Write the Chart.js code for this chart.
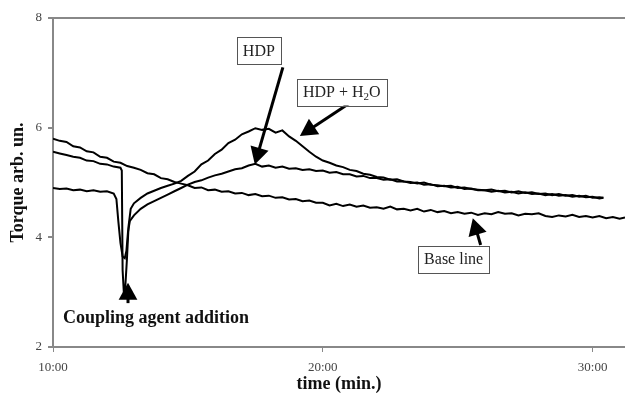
<!DOCTYPE html>
<html>
<head>
<meta charset="utf-8">
<script src="https://cdn.jsdelivr.net/npm/chart.js@4.4.0/dist/chart.umd.min.js"></script>
<style>
  html, body { margin: 0; padding: 0; background: #fff; }
</style>
</head>
<body>
<canvas id="torque" width="625" height="395"></canvas>
<script>
// time in minutes, torque in arb. units
const baseMin = [10.00,10.25,10.50,10.75,11.00,11.25,11.50,11.75,12.00,12.25,12.50,12.75,13.00,13.25,13.50,13.75,14.00,14.25,14.50,14.75,15.00,15.25,15.50,15.75,16.00,16.25,16.50,16.75,17.00,17.25,17.50,17.75,18.00,18.25,18.50,18.75,19.00,19.25,19.50,19.75,20.00,20.25,20.50,20.75,21.00,21.25,21.50,21.75,22.00,22.25,22.50,22.75,23.00,23.25,23.50,23.75,24.00,24.25,24.50,24.75,25.00,25.25,25.50,25.75,26.00,26.25,26.50,26.75,27.00,27.25,27.50,27.75,28.00,28.25,28.50,28.75,29.00,29.25,29.50,29.75,30.00,30.25,30.50,30.75,31.00,31.20];
const baseVal = [5.80,5.76,5.74,5.66,5.64,5.57,5.55,5.47,5.45,5.38,5.36,5.30,5.27,5.23,5.17,5.15,5.08,5.06,5.01,4.98,4.95,4.90,4.91,4.86,4.87,4.83,4.84,4.80,4.81,4.77,4.79,4.75,4.76,4.72,4.73,4.69,4.70,4.66,4.67,4.63,4.63,4.58,4.61,4.57,4.60,4.56,4.58,4.54,4.55,4.52,4.56,4.51,4.52,4.49,4.52,4.47,4.50,4.46,4.48,4.44,4.46,4.43,4.45,4.41,4.44,4.42,4.46,4.43,4.44,4.40,4.43,4.42,4.44,4.39,4.37,4.40,4.38,4.41,4.37,4.39,4.36,4.39,4.35,4.37,4.34,4.36];

const hdpMin = [10.00,10.25,10.50,10.75,11.00,11.25,11.50,11.75,12.00,12.25,12.35,12.42,12.50,12.58,12.66,12.72,12.78,12.85,13.00,13.25,13.50,13.75,14.00,14.25,14.50,14.75,15.00,15.25,15.50,15.75,16.00,16.25,16.50,16.75,17.00,17.25,17.50,17.75,18.00,18.25,18.50,18.75,19.00,19.25,19.50,19.75,20.00,20.25,20.50,20.75,21.00,21.25,21.50,21.75,22.00,22.25,22.50,22.75,23.00,23.25,23.50,23.75,24.00,24.25,24.50,24.75,25.00,25.25,25.50,25.75,26.00,26.25,26.50,26.75,27.00,27.25,27.50,27.75,28.00,28.25,28.50,28.75,29.00,29.25,29.50,29.75,30.00,30.25,30.40];
const hdpVal = [4.90,4.88,4.89,4.86,4.87,4.84,4.86,4.83,4.84,4.80,4.70,4.30,3.90,3.65,3.62,3.75,4.10,4.30,4.40,4.52,4.60,4.66,4.72,4.78,4.84,4.90,4.96,5.01,5.04,5.09,5.13,5.16,5.20,5.24,5.26,5.31,5.34,5.29,5.31,5.27,5.29,5.25,5.26,5.23,5.24,5.21,5.22,5.18,5.19,5.15,5.15,5.11,5.12,5.08,5.08,5.05,5.06,5.02,5.02,4.99,5.00,4.96,4.97,4.93,4.94,4.91,4.92,4.88,4.89,4.86,4.86,4.83,4.85,4.82,4.83,4.80,4.82,4.79,4.80,4.77,4.79,4.76,4.77,4.74,4.76,4.73,4.74,4.71,4.72];

const h2oMin = [10.00,10.25,10.50,10.75,11.00,11.25,11.50,11.75,12.00,12.25,12.50,12.55,12.58,12.62,12.68,12.74,12.80,12.88,13.00,13.25,13.50,13.75,14.00,14.25,14.50,14.75,15.00,15.25,15.50,15.75,16.00,16.25,16.50,16.75,17.00,17.25,17.50,17.75,18.00,18.25,18.50,18.75,19.00,19.25,19.50,19.75,20.00,20.25,20.50,20.75,21.00,21.25,21.50,21.75,22.00,22.25,22.50,22.75,23.00,23.25,23.50,23.75,24.00,24.25,24.50,24.75,25.00,25.25,25.50,25.75,26.00,26.25,26.50,26.75,27.00,27.25,27.50,27.75,28.00,28.25,28.50,28.75,29.00,29.25,29.50,29.75,30.00,30.25,30.40];
const h2oVal = [5.56,5.53,5.50,5.47,5.45,5.40,5.39,5.34,5.33,5.29,5.27,5.22,3.40,3.04,3.10,3.60,4.20,4.52,4.62,4.72,4.80,4.85,4.90,4.94,4.98,5.03,5.12,5.20,5.33,5.40,5.52,5.60,5.72,5.78,5.88,5.93,5.99,5.96,5.98,5.91,5.95,5.84,5.76,5.66,5.56,5.47,5.40,5.36,5.31,5.28,5.23,5.21,5.16,5.14,5.10,5.09,5.05,5.06,5.02,5.01,4.98,5.00,4.96,4.95,4.93,4.94,4.90,4.91,4.88,4.87,4.86,4.87,4.84,4.85,4.82,4.84,4.81,4.82,4.79,4.80,4.77,4.79,4.76,4.77,4.74,4.76,4.72,4.73,4.72];

const xTicks = [10, 20, 30];

const serif = 'Liberation Serif';

// annotation boxes and arrows, placed in data units
const callouts = [
  { text: ['HDP'], box: [17.63, 7.4], tail: [18.52, 7.1], tip: [17.48, 5.33] },
  { text: ['HDP + H', '2', 'O'], box: [20.7, 6.65], tail: [21.0, 6.45], tip: [19.15, 5.85] },
  { text: ['Base line'], box: [24.85, 3.6], tail: [25.85, 3.86], tip: [25.56, 4.35] }
];

function pts(xs, ys) {
  return xs.map((t, i) => ({ x: t, y: ys[i] }));
}

function arrow(ctx, x1, y1, x2, y2, w, head) {
  const a = Math.atan2(y2 - y1, x2 - x1);
  const c = Math.cos(a), s = Math.sin(a);
  ctx.beginPath();
  ctx.moveTo(x1, y1);
  ctx.lineTo(x2 - head * 0.8 * c, y2 - head * 0.8 * s);
  ctx.lineWidth = w;
  ctx.stroke();
  ctx.beginPath();
  ctx.moveTo(x2, y2);
  ctx.lineTo(x2 - head * c + head * 0.55 * s, y2 - head * s - head * 0.55 * c);
  ctx.lineTo(x2 - head * c - head * 0.55 * s, y2 - head * s + head * 0.55 * c);
  ctx.closePath();
  ctx.fill();
}

const notes = {
  id: 'notes',
  afterDraw(chart) {
    const { ctx } = chart;
    const sx = chart.scales.x, sy = chart.scales.y;
    const P = (t, v) => [sx.getPixelForValue(t), sy.getPixelForValue(v)];
    ctx.save();
    ctx.fillStyle = '#000';
    ctx.strokeStyle = '#000';

    callouts.forEach(c => {
      const [ax, ay] = P(c.tail[0], c.tail[1]);
      const [bx, by] = P(c.tip[0], c.tip[1]);
      arrow(ctx, ax, ay, bx, by, 3, 17);

      // label text, with optional subscript part
      const big = '16px "' + serif + '"', small = '11px "' + serif + '"';
      ctx.font = big;
      let w = ctx.measureText(c.text[0]).width;
      if (c.text.length > 1) {
        ctx.font = small; w += ctx.measureText(c.text[1]).width;
        ctx.font = big; w += ctx.measureText(c.text[2]).width;
      }
      const [cx, cy] = P(c.box[0], c.box[1]);
      const bw = w + 12, bh = 27;
      ctx.fillStyle = '#fff';
      ctx.fillRect(cx - bw / 2, cy - bh / 2, bw, bh);
      ctx.lineWidth = 1;
      ctx.strokeStyle = '#555';
      ctx.strokeRect(Math.round(cx - bw / 2) + 0.5, Math.round(cy - bh / 2) + 0.5, Math.round(bw), bh);
      ctx.fillStyle = '#222';
      ctx.textBaseline = 'middle';
      ctx.textAlign = 'left';
      let x = cx - w / 2;
      ctx.font = big;
      ctx.fillText(c.text[0], x, cy + 1);
      x += ctx.measureText(c.text[0]).width;
      if (c.text.length > 1) {
        ctx.font = small;
        ctx.fillText(c.text[1], x, cy + 5);
        x += ctx.measureText(c.text[1]).width;
        ctx.font = big;
        ctx.fillText(c.text[2], x, cy + 1);
      }
      ctx.fillStyle = '#000';
      ctx.strokeStyle = '#000';
    });

    // coupling agent addition marker
    const [ux, uy] = P(12.78, 3.17);
    const [, ly] = P(12.78, 2.8);
    arrow(ctx, ux, ly, ux, uy, 3, 17);
    const [tx, ty] = P(10.37, 2.53);
    ctx.font = 'bold 18px "' + serif + '"';
    ctx.fillStyle = '#111';
    ctx.textAlign = 'left';
    ctx.textBaseline = 'middle';
    ctx.fillText('Coupling agent addition', tx, ty);
    ctx.restore();
  }
};

const line = (label, data) => ({
  label, data,
  borderColor: '#000',
  borderWidth: 2,
  pointRadius: 0,
  tension: 0,
  fill: false
});

new Chart(document.getElementById('torque'), {
  type: 'line',
  data: {
    datasets: [
      line('Base line', pts(baseMin, baseVal)),
      line('HDP', pts(hdpMin, hdpVal)),
      line('HDP + H2O', pts(h2oMin, h2oVal))
    ]
  },
  options: {
    responsive: false,
    animation: false,
    devicePixelRatio: 1,
    layout: { padding: { top: 18, right: 0, left: 0, bottom: 0 } },
    plugins: { legend: { display: false }, tooltip: { enabled: false } },
    scales: {
      x: {
        type: 'linear',
        min: 10,
        max: 31.2,
        afterBuildTicks: s => { s.ticks = xTicks.map(v => ({ value: v })); },
        afterFit: s => { s.height = 48; },
        ticks: {
          callback: v => v + ':00',
          font: { family: serif, size: 13 },
          color: '#444',
          padding: 8,
          maxRotation: 0
        },
        grid: { drawOnChartArea: false, tickLength: 5, color: '#888' },
        border: { color: '#888', width: 2 },
        title: {
          display: true,
          text: 'time (min.)',
          font: { family: serif, size: 18, weight: 'bold' },
          color: '#111',
          padding: { top: 0, bottom: 0 }
        }
      },
      y: {
        min: 2,
        max: 8,
        afterFit: s => { s.width = 53; },
        ticks: {
          stepSize: 2,
          font: { family: serif, size: 13 },
          color: '#444',
          padding: 6
        },
        grid: {
          color: c => (c.tick && c.tick.value === 8 ? '#888' : 'rgba(0,0,0,0)'),
          tickColor: '#888',
          tickLength: 5,
          lineWidth: 2
        },
        border: { color: '#888', width: 2 },
        title: {
          display: true,
          text: 'Torque arb. un.',
          font: { family: serif, size: 18, weight: 'bold' },
          color: '#111',
          padding: { top: 8, bottom: 0 }
        }
      }
    }
  },
  plugins: [notes]
});
</script>
</body>
</html>
